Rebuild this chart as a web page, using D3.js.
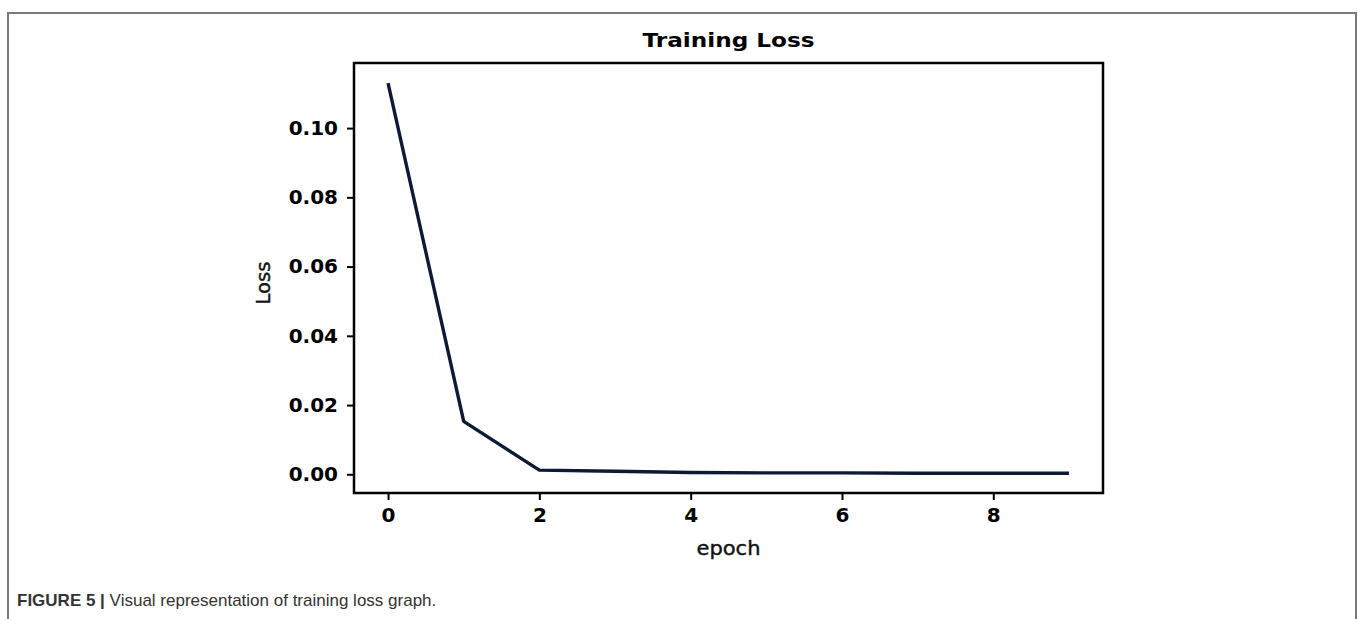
<!DOCTYPE html>
<html>
<head>
<meta charset="utf-8">
<script src="https://cdn.jsdelivr.net/npm/d3@7"></script>
<style>
  html, body { margin: 0; padding: 0; background: #fff; }
  svg { display: block; }
</style>
</head>
<body>
<svg id="chart" width="1360" height="619"></svg>
<script>
// ---- data ----
const epochs = [0, 1, 2, 3, 4, 5, 6, 7, 8, 9];
const lossValues = [0.1130, 0.0153, 0.0012, 0.0009, 0.0005, 0.0004, 0.0004, 0.0003, 0.0003, 0.0003];
const xTicks = [0, 2, 4, 6, 8];
const yTicks = [0.00, 0.02, 0.04, 0.06, 0.08, 0.10];
const titleText = "Training Loss";
const xLabel = "epoch";
const yLabel = "Loss";
const captionBold = "FIGURE 5 |";
const captionText = " Visual representation of training loss graph.";

// ---- layout ----
const svg = d3.select("#chart");
const W = 1360, H = 619;
const plot = { left: 354, right: 1103, top: 63, bottom: 493 };

// outer figure frame
svg.append("path")
  .attr("d", `M8,${H + 5} L8,13 L1356,13 L1356,${H + 5}`)
  .attr("fill", "none")
  .attr("stroke", "#7a7a7a")
  .attr("stroke-width", 2);

const x = d3.scaleLinear().domain([-0.45, 9.45]).range([plot.left, plot.right]);
const y = d3.scaleLinear().domain([-0.0054, 0.1188]).range([plot.bottom, plot.top]);

const font = "'DejaVu Sans', sans-serif";

// axes
const xAxis = svg.append("g")
  .attr("transform", `translate(0,${plot.bottom})`)
  .call(d3.axisBottom(x).tickValues(xTicks).tickFormat(d3.format("d")).tickSize(7).tickPadding(8));
const yAxis = svg.append("g")
  .attr("transform", `translate(${plot.left},0)`)
  .call(d3.axisLeft(y).tickValues(yTicks).tickFormat(d3.format(".2f")).tickSize(7).tickPadding(9));

[xAxis, yAxis].forEach(g => {
  g.select(".domain").remove();
  g.selectAll(".tick line").attr("stroke", "#000").attr("stroke-width", 2);
  g.selectAll(".tick text")
    .attr("fill", "#000")
    .style("font-family", font)
    .style("font-weight", "bold")
    .style("font-size", "20px");
});

// line
const line = d3.line()
  .x((d, i) => x(epochs[i]))
  .y(d => y(d));
svg.append("path")
  .datum(lossValues)
  .attr("d", line)
  .attr("fill", "none")
  .attr("stroke", "#0c1a36")
  .attr("stroke-width", 3.4)
  .attr("stroke-linejoin", "round");

// plot frame
svg.append("rect")
  .attr("x", plot.left)
  .attr("y", plot.top)
  .attr("width", plot.right - plot.left)
  .attr("height", plot.bottom - plot.top)
  .attr("fill", "none")
  .attr("stroke", "#000")
  .attr("stroke-width", 2.5);

// title
svg.append("text")
  .attr("x", (plot.left + plot.right) / 2)
  .attr("y", 47)
  .attr("text-anchor", "middle")
  .attr("textLength", 172)
  .attr("lengthAdjust", "spacingAndGlyphs")
  .style("font-family", font)
  .style("font-weight", "bold")
  .style("font-size", "19px")
  .attr("fill", "#000")
  .text(titleText);

// x label
svg.append("text")
  .attr("x", (plot.left + plot.right) / 2)
  .attr("y", 555)
  .attr("text-anchor", "middle")
  .attr("textLength", 64)
  .attr("lengthAdjust", "spacingAndGlyphs")
  .style("font-family", font)
  .style("font-size", "20px")
  .attr("fill", "#111")
  .attr("stroke", "#111")
  .attr("stroke-width", 0.4)
  .text(xLabel);

// y label
svg.append("text")
  .attr("transform", `translate(270,283) rotate(-90)`)
  .attr("text-anchor", "middle")
  .attr("textLength", 43)
  .attr("lengthAdjust", "spacingAndGlyphs")
  .style("font-family", font)
  .style("font-size", "20px")
  .attr("fill", "#111")
  .attr("stroke", "#111")
  .attr("stroke-width", 0.4)
  .text(yLabel);

// caption
const cap = svg.append("text")
  .attr("x", 17)
  .attr("y", 606)
  .style("font-family", "'Liberation Sans', Arial, sans-serif")
  .style("font-size", "17px")
  .attr("fill", "#333");
cap.append("tspan").style("font-weight", "bold").text(captionBold);
cap.append("tspan").text(captionText);
</script>
</body>
</html>
